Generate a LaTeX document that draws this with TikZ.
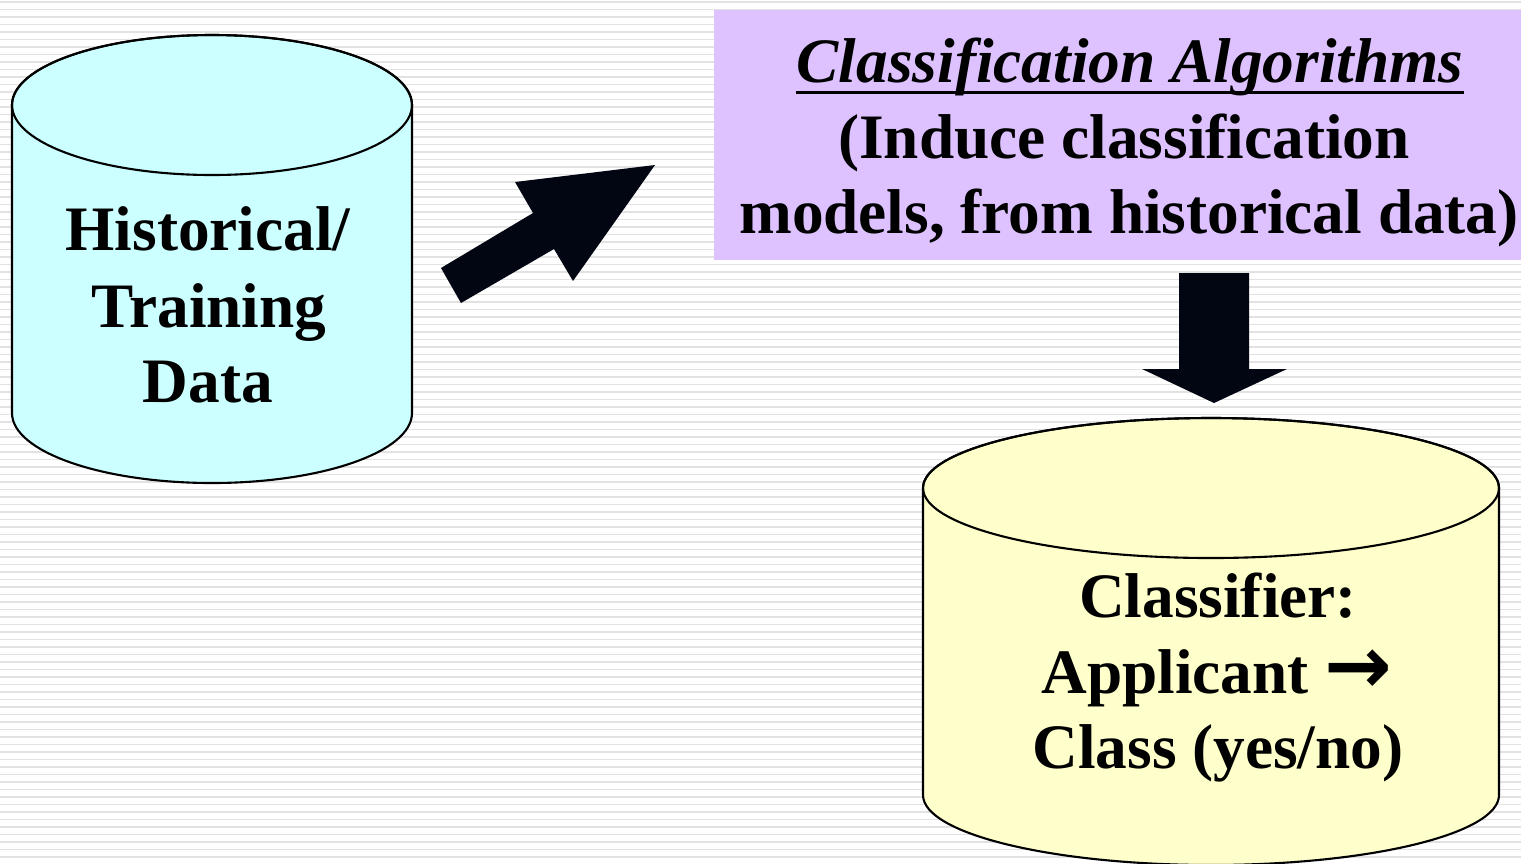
\documentclass[tikz,border=0pt]{standalone}
\usepackage{fontspec}
\setmainfont{Liberation Serif}
\newfontfamily\arrowfont{DejaVu Sans}
\usetikzlibrary{calc}

\definecolor{cyanfill}{RGB}{204,255,255}
\definecolor{yellowfill}{RGB}{255,255,204}
\definecolor{lilac}{RGB}{222,194,255}
\definecolor{stripe}{RGB}{226,226,226}
\definecolor{arrowink}{RGB}{2,6,18}

\tikzset{
  cylinder line/.style={draw=black, line width=0.6pt},
  bigarrow/.style={fill=arrowink},
}

\begin{document}
\begin{tikzpicture}[x=0.01cm,y=-0.01cm]

        \useasboundingbox (0,0) rectangle (1521,863);

        % striped background
        \fill[white] (0,0) rectangle (1521,863);
        \foreach \k in {0,...,115}
          \fill[stripe] (0,1+7.5*\k) rectangle (1521,2.8+7.5*\k);

        % training data store
        \path[cylinder line, fill=cyanfill] (12,105) -- (12,413)
          arc[start angle=180, end angle=0, x radius=200, y radius=70]
          -- (412,105)
          arc[start angle=0, end angle=-180, x radius=200, y radius=70];
        \draw[cylinder line] (212,105) ellipse [x radius=200, y radius=70];

        % classifier store
        \path[cylinder line, fill=yellowfill] (923,488) -- (923,795)
          arc[start angle=180, end angle=0, x radius=288, y radius=70]
          -- (1499,488)
          arc[start angle=0, end angle=-180, x radius=288, y radius=70];
        \draw[cylinder line] (1211,488) ellipse [x radius=288, y radius=70];

        % algorithm box
        \fill[lilac] (714,10) rectangle (1521,260);

        % block arrows
        \fill[bigarrow] (441,268) -- (533,213) -- (515,182) -- (655,165)
          -- (573,281) -- (554,249) -- (461,303) -- cycle;
        \fill[bigarrow] (1179,273) -- (1249,273) -- (1249,369) -- (1287,369)
          -- (1214,403) -- (1142,369) -- (1179,369) -- cycle;

        \begin{scope}[every node/.style={inner sep=0, anchor=base,
            font=\bfseries\fontsize{18}{21.6}\selectfont}]
          \node (hist)  at (208,250)  {Historical/};
          \node (train) at (209,327)  {Training};
          \node (data)  at (208,402)  {Data};

          \node (title) at (1130,82)  {\itshape Classification Algorithms};
          \node (induce) at (1124,158) {(Induce classification};
          \node (models) at (1129,233) {models, from historical data)};

          \node (clf)   at (1218,617) {Classifier:};
          \node (appl)  at (1217,693) {Applicant {\arrowfont\fontsize{23}{23}\selectfont →}};
          \node (cls)   at (1218,768) {Class (yes/no)};
        \end{scope}

        \draw[line width=0.85pt] ($(title.base west)+(0,10)$) -- ($(title.base east)+(0,10)$);
      \end{tikzpicture}
\end{document}
